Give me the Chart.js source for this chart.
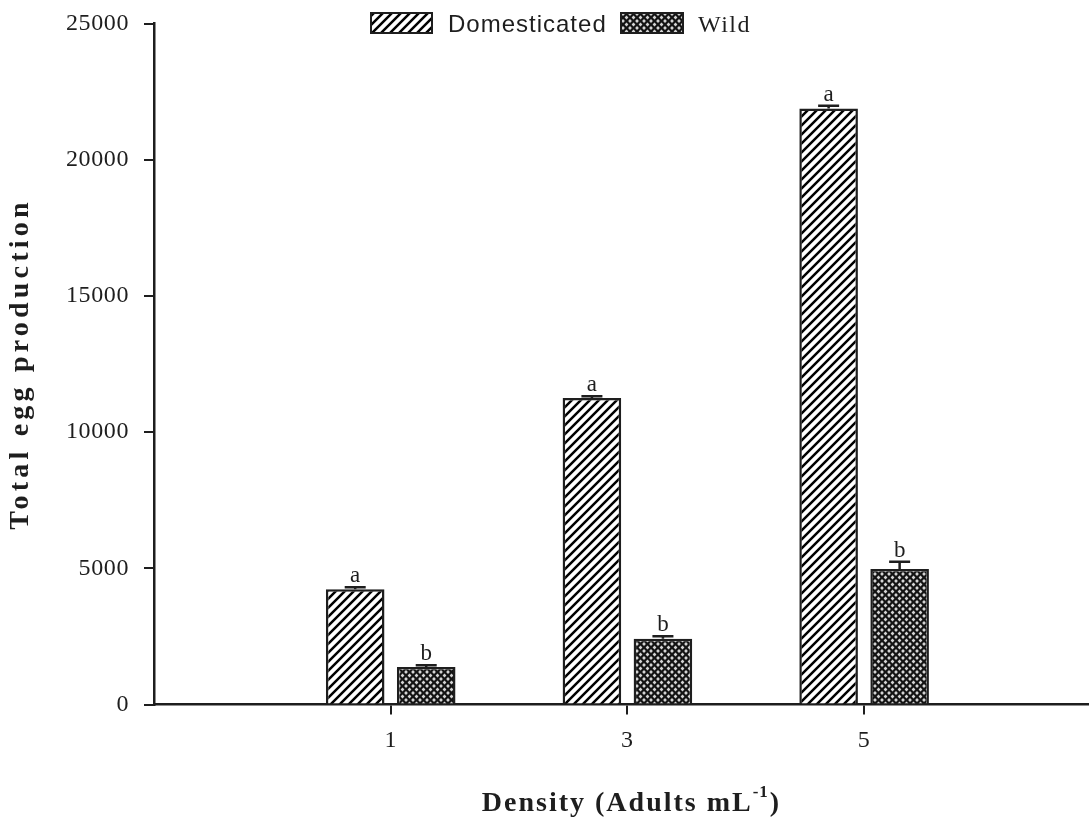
<!DOCTYPE html>
<html>
<head>
<meta charset="utf-8">
<script src="https://cdn.jsdelivr.net/npm/chart.js@4.4.1/dist/chart.umd.min.js"></script>
<style>
html, body { margin: 0; padding: 0; background: #fff; overflow: hidden; }
#wrap { width: 1089px; height: 820px; }
</style>
</head>
<body>
<div id="wrap"><canvas id="eggChart"></canvas></div>
<script>
const densities = [1, 3, 5];
const domesticated = [4230, 11250, 21880];
const wild = [1380, 2410, 4970];
const domesticatedErr = [70, 70, 100];
const wildErr = [60, 100, 270];
const domesticatedLetters = ['a', 'a', 'a'];
const wildLetters = ['b', 'b', 'b'];
const yTicks = [0, 5000, 10000, 15000, 20000, 25000];

const ink = '#1e1e1e';
const serif = "'Liberation Serif', 'Times New Roman', serif";
const sans = "'Liberation Sans', Arial, sans-serif";

// diagonal "///" hatch for domesticated
function hatchPattern() {
    const s = 9;
    const c = document.createElement('canvas');
    c.width = s; c.height = s;
    const g = c.getContext('2d');
    g.fillStyle = '#fff';
    g.fillRect(0, 0, s, s);
    g.strokeStyle = '#000';
    g.lineWidth = 2.5;
    g.beginPath();
    g.moveTo(-2, s + 2); g.lineTo(s + 2, -2);
    g.moveTo(-2, 2); g.lineTo(2, -2);
    g.moveTo(s - 2, s + 2); g.lineTo(s + 2, s - 2);
    g.stroke();
    return g.createPattern(c, 'repeat');
}

// dark cross-hatch with light dots for wild
function dotPattern() {
    const s = 7;
    const c = document.createElement('canvas');
    c.width = s; c.height = s;
    const g = c.getContext('2d');
    g.fillStyle = '#141414';
    g.fillRect(0, 0, s, s);
    g.fillStyle = '#d4d4d4';
    const dot = (x, y, r) => {
        g.beginPath();
        g.moveTo(x, y - r); g.lineTo(x + r, y); g.lineTo(x, y + r); g.lineTo(x - r, y);
        g.closePath();
        g.fill();
    };
    [[0, 0], [s, 0], [0, s], [s, s], [s / 2, s / 2]].forEach(p => dot(p[0], p[1], 1.9));
    return g.createPattern(c, 'repeat');
}

const domFill = hatchPattern();
const wildFill = dotPattern();

const ctx = document.getElementById('eggChart').getContext('2d');

// letter spacing for the tick labels (the original text is loosely spaced)
const spacing = {
    id: 'spacing',
    beforeLayout(chart) { chart.ctx.letterSpacing = '0.6px'; },
    beforeDraw(chart) { chart.ctx.letterSpacing = '0.6px'; }
};

// error bars (upper only) and significance letters
const annotate = {
    id: 'annotate',
    afterDatasetsDraw(chart) {
        const c = chart.ctx;
        const y = chart.scales.y;
        const sets = [[domesticated, domesticatedErr, domesticatedLetters], [wild, wildErr, wildLetters]];
        c.save();
        c.strokeStyle = ink;
        c.lineWidth = 2.5;
        c.fillStyle = ink;
        c.font = '23px ' + serif;
        c.letterSpacing = '0px';
        c.textAlign = 'center';
        c.textBaseline = 'alphabetic';
        sets.forEach(([vals, errs, letters], di) => {
            chart.getDatasetMeta(di).data.forEach((bar, i) => {
                const top = y.getPixelForValue(vals[i] + errs[i]);
                c.beginPath();
                c.moveTo(bar.x, bar.y);
                c.lineTo(bar.x, top);
                c.moveTo(bar.x - 10.5, top);
                c.lineTo(bar.x + 10.5, top);
                c.stroke();
                c.fillText(letters[i], bar.x, top - 5);
            });
        });
        c.restore();
    }
};

// legend and axis titles
const titles = {
    id: 'titles',
    afterDraw(chart) {
        const c = chart.ctx;
        c.save();
        c.fillStyle = ink;
        c.strokeStyle = ink;
        c.lineWidth = 2;

        // legend
        c.fillStyle = domFill;
        c.fillRect(371, 13, 61, 20);
        c.strokeRect(371, 13, 61, 20);
        c.fillStyle = wildFill;
        c.fillRect(621, 13, 62, 20);
        c.strokeRect(621, 13, 62, 20);
        c.fillStyle = ink;
        c.textBaseline = 'alphabetic';
        c.textAlign = 'left';
        c.letterSpacing = '1px';
        c.font = '24px ' + sans;
        c.fillText('Domesticated', 448, 31.5);
        c.font = '24px ' + serif;
        c.letterSpacing = '1.5px';
        c.fillText('Wild', 698, 31.5);

        // x title with superscript
        const big = 'bold 28px ' + serif, small = 'bold 17px ' + serif;
        c.font = big;
        c.letterSpacing = '2px';
        const main = 'Density (Adults mL';
        const w1 = c.measureText(main).width;
        c.font = small;
        c.letterSpacing = '1px';
        const w2 = c.measureText('-1').width;
        c.font = big;
        c.letterSpacing = '2px';
        const w3 = c.measureText(')').width;
        const x0 = 631 - (w1 + w2 + w3) / 2;
        c.fillText(main, x0, 811);
        c.font = small;
        c.letterSpacing = '1px';
        c.fillText('-1', x0 + w1, 797);
        c.font = big;
        c.letterSpacing = '2px';
        c.fillText(')', x0 + w1 + w2 + 1, 811);

        // y title
        c.translate(21, 364);
        c.rotate(-Math.PI / 2);
        c.textAlign = 'center';
        c.textBaseline = 'middle';
        c.font = big;
        c.letterSpacing = '4.2px';
        c.fillText('Total egg production', 0, 0);
        c.restore();
    }
};

const chart = new Chart(ctx, {
    type: 'bar',
    data: {
        datasets: [
            {
                label: 'Domesticated',
                data: densities.map((d, i) => ({ x: d, y: domesticated[i] })),
                backgroundColor: domFill,
                borderColor: ink,
                borderWidth: 2.5
            },
            {
                label: 'Wild',
                data: densities.map((d, i) => ({ x: d, y: wild[i] })),
                backgroundColor: wildFill,
                borderColor: ink,
                borderWidth: 2.5
            }
        ]
    },
    options: {
        responsive: true,
        maintainAspectRatio: false,
        animation: false,
        events: [],
        categoryPercentage: 0.6,
        barPercentage: 0.825,
        layout: { padding: { top: 23.5, right: 0, bottom: 0, left: 0 } },
        plugins: {
            legend: { display: false },
            tooltip: { enabled: false }
        },
        scales: {
            x: {
                type: 'linear',
                min: -1,
                max: 6.9,
                offset: false,
                afterBuildTicks: s => { s.ticks = densities.map(v => ({ value: v })); },
                afterFit: s => {
                    s.height = 820 - 704.5;
                    s.paddingLeft = 0;
                    s.paddingRight = 0;
                },
                ticks: {
                    callback: v => String(v),
                    color: ink,
                    font: { family: serif, size: 24 },
                    padding: 12,
                    autoSkip: false,
                    maxRotation: 0
                },
                grid: { offset: false, drawOnChartArea: false, tickLength: 10, color: ink, lineWidth: 2 },
                border: { color: ink, width: 2.5 }
            },
            y: {
                min: 0,
                max: 25000,
                afterBuildTicks: s => { s.ticks = yTicks.map(v => ({ value: v })); },
                afterFit: s => {
                    s.width = 154;
                    s.paddingTop = 0;
                    s.paddingBottom = 0;
                },
                ticks: {
                    callback: v => String(v),
                    color: ink,
                    font: { family: serif, size: 24 },
                    padding: 15
                },
                grid: { drawOnChartArea: false, tickLength: 10, color: ink, lineWidth: 2 },
                border: { color: ink, width: 2.5 }
            }
        }
    },
    plugins: [spacing, annotate, titles]
});
</script>
</body>
</html>
